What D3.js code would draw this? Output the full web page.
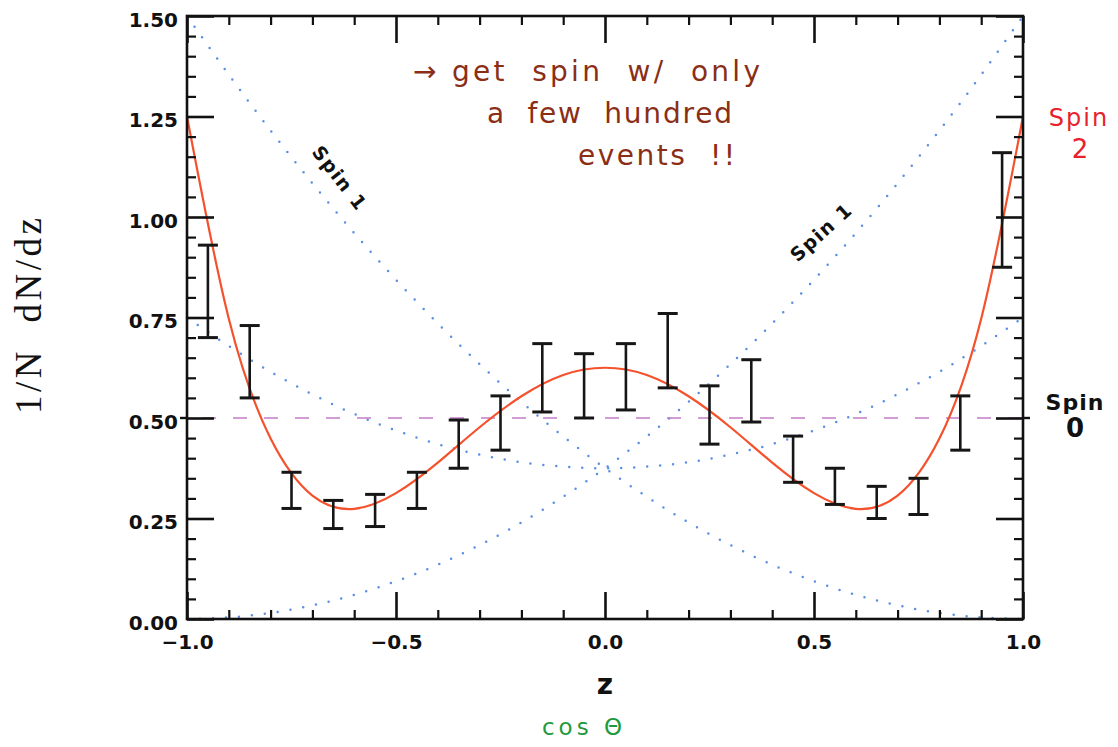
<!DOCTYPE html>
<html>
<head>
<meta charset="utf-8">
<script src="https://cdn.jsdelivr.net/npm/d3@7"></script>
<style>
  body { margin: 0; background: #fff; }
  svg { display: block; }
</style>
</head>
<body>
<svg id="chart" width="1118" height="747"></svg>
<script>
// Sample points (z = cos θ) for the theoretical angular distributions
const zGrid = [-1.0, -0.9, -0.8, -0.7, -0.6, -0.5, -0.4, -0.3, -0.2, -0.1, 0.0,
                0.1, 0.2, 0.3, 0.4, 0.5, 0.6, 0.7, 0.8, 0.9, 1.0];

// Spin 0: flat distribution
const spin0Z = [-1.0, 1.0];
const spin0 = [0.5, 0.5];

// Spin 1: forward-peaked, backward-peaked and symmetric shapes
const spin1Rising = [0.000, 0.004, 0.015, 0.034, 0.060, 0.094, 0.135, 0.184, 0.240, 0.304, 0.375,
                     0.454, 0.540, 0.634, 0.735, 0.844, 0.960, 1.084, 1.215, 1.354, 1.500];
const spin1Falling = [1.500, 1.354, 1.215, 1.084, 0.960, 0.844, 0.735, 0.634, 0.540, 0.454, 0.375,
                      0.304, 0.240, 0.184, 0.135, 0.094, 0.060, 0.034, 0.015, 0.004, 0.000];
const spin1Symmetric = [0.750, 0.679, 0.615, 0.559, 0.510, 0.469, 0.435, 0.409, 0.390, 0.379, 0.375,
                        0.379, 0.390, 0.409, 0.435, 0.469, 0.510, 0.559, 0.615, 0.679, 0.750];

// Spin 2 distribution
const spin2 = [1.250, 0.747, 0.449, 0.307, 0.274, 0.313, 0.389, 0.477, 0.554, 0.607, 0.625,
               0.607, 0.554, 0.477, 0.389, 0.313, 0.274, 0.307, 0.449, 0.747, 1.250];

// Simulated events: bin centres with upper and lower error-bar ends
const binZ = [-0.95, -0.85, -0.75, -0.65, -0.55, -0.45, -0.35, -0.25, -0.15, -0.05,
               0.05, 0.15, 0.25, 0.35, 0.45, 0.55, 0.65, 0.75, 0.85, 0.95];
const binHigh = [0.93, 0.73, 0.365, 0.295, 0.31, 0.365, 0.495, 0.555, 0.685, 0.66,
                 0.685, 0.76, 0.58, 0.645, 0.455, 0.375, 0.33, 0.35, 0.555, 1.16];
const binLow = [0.70, 0.55, 0.275, 0.225, 0.23, 0.275, 0.375, 0.42, 0.515, 0.50,
                0.52, 0.575, 0.435, 0.49, 0.34, 0.285, 0.25, 0.26, 0.42, 0.875];

// Axis ticks
const xMajor = [-1.0, -0.5, 0.0, 0.5, 1.0];
const xTickLabels = ["\u22121.0", "\u22120.5", "0.0", "0.5", "1.0"];
const xMinor = [-0.9, -0.8, -0.7, -0.6, -0.4, -0.3, -0.2, -0.1, 0.1, 0.2, 0.3, 0.4, 0.6, 0.7, 0.8, 0.9];
const yMajor = [0.0, 0.25, 0.5, 0.75, 1.0, 1.25, 1.5];
const yTickLabels = ["0.00", "0.25", "0.50", "0.75", "1.00", "1.25", "1.50"];
const yMinor = [0.05, 0.10, 0.15, 0.20, 0.30, 0.35, 0.40, 0.45, 0.55, 0.60, 0.65, 0.70,
                0.80, 0.85, 0.90, 0.95, 1.05, 1.10, 1.15, 1.20, 1.30, 1.35, 1.40, 1.45];

const svg = d3.select("#chart");
const frameLeft = 187, frameRight = 1023, frameTop = 16, frameBottom = 619;

const x = d3.scaleLinear().domain([-1, 1]).range([frameLeft, frameRight]);
const y = d3.scaleLinear().domain([0, 1.5]).range([frameBottom, frameTop]);

svg.append("rect").attr("width", 1118).attr("height", 747).attr("fill", "#fff");

const plot = svg.append("g");

const lineOf = (zs, vs, curve) => d3.line()
  .x((d, i) => x(zs[i]))
  .y(d => y(d))
  .curve(curve)(vs);

// Spin 1 dotted curves
[spin1Rising, spin1Falling, spin1Symmetric].forEach(vals => {
  plot.append("path")
    .attr("d", lineOf(zGrid, vals, d3.curveNatural))
    .attr("fill", "none")
    .attr("stroke", "#5b8fe3")
    .attr("stroke-width", 2.5)
    .attr("stroke-linecap", "round")
    .attr("stroke-dasharray", "0,13");
});

// Spin 0 dashed line
plot.append("path")
  .attr("d", lineOf(spin0Z, spin0, d3.curveLinear))
  .attr("fill", "none")
  .attr("stroke", "#c47cc8")
  .attr("stroke-width", 1.6)
  .attr("stroke-dasharray", "14,17")
  .attr("stroke-dashoffset", -15);

// Spin 2 curve
plot.append("path")
  .attr("d", lineOf(zGrid, spin2, d3.curveNatural))
  .attr("fill", "none")
  .attr("stroke", "#f4512c")
  .attr("stroke-width", 2.2);

// Error bars
const bars = plot.append("g").attr("stroke", "#161616");
binZ.forEach((z, i) => {
  const cx = x(z), y1 = y(binHigh[i]), y2 = y(binLow[i]);
  bars.append("line").attr("x1", cx).attr("x2", cx).attr("y1", y1).attr("y2", y2)
    .attr("stroke-width", 2.6);
  [y1, y2].forEach(yy => {
    bars.append("line").attr("x1", cx - 10).attr("x2", cx + 10).attr("y1", yy).attr("y2", yy)
      .attr("stroke-width", 3);
  });
});

// Axes with inward ticks on all four sides
function styleAxis(g, width) {
  g.select(".domain").remove();
  g.selectAll(".tick line").attr("stroke", "#111").attr("stroke-width", width);
  g.selectAll("text")
    .attr("fill", "#111")
    .attr("font-family", "DejaVu Sans, sans-serif")
    .attr("font-weight", "bold")
    .attr("font-size", 20);
}

const gBottom = svg.append("g").attr("transform", `translate(0,${frameBottom})`)
  .call(d3.axisBottom(x).tickValues(xMajor).tickSize(-27).tickSizeOuter(0).tickPadding(16)
    .tickFormat((d, i) => xTickLabels[i]));
styleAxis(gBottom, 2.6);
const gBottomMinor = svg.append("g").attr("transform", `translate(0,${frameBottom})`)
  .call(d3.axisBottom(x).tickValues(xMinor).tickSize(-9).tickSizeOuter(0).tickFormat(""));
styleAxis(gBottomMinor, 2.2);

const gTop = svg.append("g").attr("transform", `translate(0,${frameTop})`)
  .call(d3.axisTop(x).tickValues(xMajor).tickSize(-27).tickSizeOuter(0).tickFormat(""));
styleAxis(gTop, 2.6);
const gTopMinor = svg.append("g").attr("transform", `translate(0,${frameTop})`)
  .call(d3.axisTop(x).tickValues(xMinor).tickSize(-9).tickSizeOuter(0).tickFormat(""));
styleAxis(gTopMinor, 2.2);

const gLeft = svg.append("g").attr("transform", `translate(${frameLeft},0)`)
  .call(d3.axisLeft(y).tickValues(yMajor).tickSize(-27).tickSizeOuter(0).tickPadding(9)
    .tickFormat((d, i) => yTickLabels[i]));
styleAxis(gLeft, 2.6);
gLeft.selectAll("text").attr("dy", "0.5em");
const gLeftMinor = svg.append("g").attr("transform", `translate(${frameLeft},0)`)
  .call(d3.axisLeft(y).tickValues(yMinor).tickSize(-9).tickSizeOuter(0).tickFormat(""));
styleAxis(gLeftMinor, 2.2);

const gRight = svg.append("g").attr("transform", `translate(${frameRight},0)`)
  .call(d3.axisRight(y).tickValues(yMajor).tickSize(-27).tickSizeOuter(0).tickFormat(""));
styleAxis(gRight, 2.6);
const gRightMinor = svg.append("g").attr("transform", `translate(${frameRight},0)`)
  .call(d3.axisRight(y).tickValues(yMinor).tickSize(-9).tickSizeOuter(0).tickFormat(""));
styleAxis(gRightMinor, 2.2);

// Short outward marks at the spin-0 level
svg.append("line").attr("x1", frameLeft - 7).attr("x2", frameLeft)
  .attr("y1", y(spin0[0])).attr("y2", y(spin0[0]))
  .attr("stroke", "#111").attr("stroke-width", 2.4);
svg.append("line").attr("x1", frameRight).attr("x2", frameRight + 7)
  .attr("y1", y(spin0[1])).attr("y2", y(spin0[1]))
  .attr("stroke", "#111").attr("stroke-width", 2.4);

// Frame
svg.append("rect")
  .attr("x", frameLeft).attr("y", frameTop)
  .attr("width", frameRight - frameLeft).attr("height", frameBottom - frameTop)
  .attr("fill", "none").attr("stroke", "#111").attr("stroke-width", 2.6);

// Axis titles
svg.append("text")
  .attr("x", x(0)).attr("y", 694)
  .attr("text-anchor", "middle")
  .attr("font-family", "DejaVu Sans, sans-serif")
  .attr("font-weight", "bold")
  .attr("font-size", 28)
  .attr("fill", "#111")
  .text("z");

svg.append("text")
  .attr("transform", "translate(41,316) rotate(-90)")
  .attr("text-anchor", "middle")
  .attr("font-family", "Liberation Serif, serif")
  .attr("font-size", 37)
  .attr("fill", "#111")
  .attr("textLength", 196)
  .attr("lengthAdjust", "spacing")
  .style("white-space", "pre")
  .text("1/N  dN/dz");

// Hand-written notes
const hand = "DejaVu Sans, sans-serif";
svg.append("text")
  .attr("x", 582).attr("y", 735)
  .attr("text-anchor", "middle")
  .attr("font-family", hand).attr("font-size", 23)
  .attr("fill", "#1e9a3e")
  .attr("textLength", 80).attr("lengthAdjust", "spacing")
  .text("cos \u0398");

const noteColor = "#8a2e16";
[
  { t: "\u2192 get  spin  w/  only", x: 413, y: 81, w: 347 },
  { t: "a  few  hundred", x: 487, y: 123, w: 245 },
  { t: "events  !!", x: 578, y: 165, w: 157 }
].forEach(n => {
  svg.append("text")
    .attr("x", n.x).attr("y", n.y)
    .attr("font-family", hand).attr("font-size", 28)
    .attr("fill", noteColor)
    .attr("textLength", n.w).attr("lengthAdjust", "spacing")
    .style("white-space", "pre")
    .text(n.t);
});

// Curve labels
svg.append("text").attr("x", 1079).attr("y", 126).attr("text-anchor", "middle")
  .attr("font-family", hand).attr("font-size", 24).attr("fill", "#e8222c")
  .attr("letter-spacing", 2).text("Spin");
svg.append("text").attr("x", 1080).attr("y", 158).attr("text-anchor", "middle")
  .attr("font-family", hand).attr("font-size", 26).attr("fill", "#e8222c").text("2");

svg.append("text").attr("x", 1075).attr("y", 410).attr("text-anchor", "middle")
  .attr("font-family", hand).attr("font-size", 22).attr("font-weight", "bold").attr("fill", "#111")
  .attr("letter-spacing", 1).text("Spin");
svg.append("text").attr("x", 1075).attr("y", 437).attr("text-anchor", "middle")
  .attr("font-family", hand).attr("font-size", 26).attr("font-weight", "bold").attr("fill", "#111").text("0");

svg.append("text")
  .attr("transform", "translate(340,178) rotate(52)")
  .attr("text-anchor", "middle").attr("dominant-baseline", "central")
  .attr("font-family", hand).attr("font-size", 19).attr("font-weight", "bold").attr("fill", "#111")
  .attr("letter-spacing", 1.5)
  .text("Spin 1");
svg.append("text")
  .attr("transform", "translate(821,232) rotate(-42)")
  .attr("text-anchor", "middle").attr("dominant-baseline", "central")
  .attr("font-family", hand).attr("font-size", 19).attr("font-weight", "bold").attr("fill", "#111")
  .attr("letter-spacing", 1.5)
  .text("Spin 1");
</script>
</body>
</html>
